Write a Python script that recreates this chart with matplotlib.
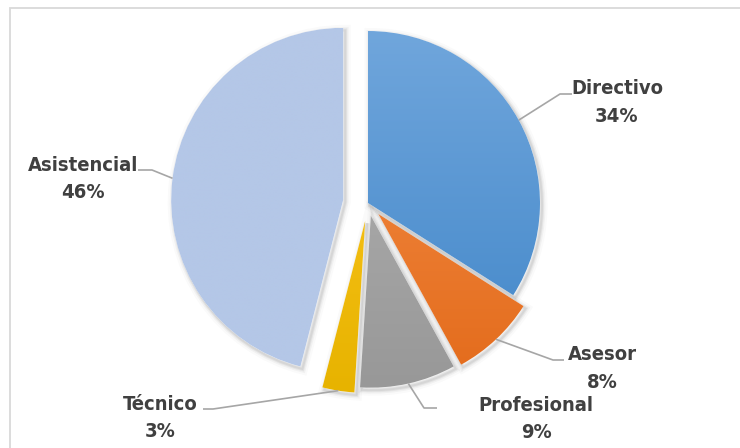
import numpy as np
import matplotlib
matplotlib.use("Agg")
import matplotlib.pyplot as plt
from matplotlib import font_manager
from matplotlib.colors import LinearSegmentedColormap
from matplotlib.patches import Rectangle, PathPatch
from matplotlib.path import Path

categories = ["Directivo", "Asesor", "Profesional", "Técnico", "Asistencial"]
percent = [34, 8, 9, 3, 46]

# gradient colours per slice (top, bottom)
grad_colors = [("#70a6dc", "#4287c9"), ("#f58f4a", "#e36b1b"), ("#b3b3b3", "#989898"),
               ("#ffc823", "#e7b300"), ("#b4c7e7", "#b4c7e7")]
explode = [0, 15, 13, 18, 25]

W, H = 740, 448
CX, CY, R = 368, H - 203, 172

# label baselines (image px): centre x, name, pct; leader elbow and end
label_pos = [(617, 94, 122), (602, 360, 388), (536, 411, 438), (160, 410, 437), (83, 171, 198)]
leader = [((560, 94), (572, 94)), ((553, 360), (564, 360)), ((424, 408), (437, 408)),
          ((213, 409), (203, 409)), ((152, 170), (138, 170))]

names = {f.name for f in font_manager.fontManager.ttflist}
if "Liberation Sans Narrow" in names:
    font = dict(family="Liberation Sans Narrow", size=17)
else:
    font = dict(family="DejaVu Sans", stretch="condensed", size=14.5)

fig = plt.figure(figsize=(W / 100, H / 100), dpi=100)
ax = fig.add_axes([0, 0, 1, 1])

wedges, _ = ax.pie(percent, explode=explode, radius=R, center=(CX, CY), startangle=90,
                   counterclock=False, wedgeprops=dict(linewidth=0))
ax.set_xlim(0, W)
ax.set_ylim(0, H)
ax.set_aspect("auto")
ax.axis("off")

# soft shadow + gradient fill
for w, (c1, c2) in zip(wedges, grad_colors):
    cx, cy = w.center
    path = w.get_path()
    shifted = Path(path.vertices + [2.0, -2.5], path.codes)
    for k, a in [(8, 0.02), (5, 0.035), (3, 0.05), (1.5, 0.06)]:
        ax.add_patch(PathPatch(shifted, fc="none", ec="black", lw=k, alpha=a, zorder=1))
    ax.add_patch(PathPatch(path, fc="white", ec="none", zorder=1.5))
    w.set_facecolor("none")
    w.set_zorder(3)
    cmap = LinearSegmentedColormap.from_list("g", [c2, c1])
    grad = np.linspace(0, 1, 256).reshape(-1, 1)
    im = ax.imshow(grad, cmap=cmap, extent=(cx - R, cx + R, cy - R, cy + R), origin="lower",
                   aspect="auto", zorder=2, interpolation="bilinear")
    im.set_clip_path(w)

ax.set_xlim(0, W)
ax.set_ylim(0, H)

for w, name, p, (lx, y1, y2), (elb, end) in zip(wedges, categories, percent, label_pos, leader):
    th = np.deg2rad((w.theta1 + w.theta2) / 2)
    sx = w.center[0] + w.r * np.cos(th)
    sy = w.center[1] + w.r * np.sin(th)
    ax.plot([sx, elb[0], end[0]], [sy, H - elb[1], H - end[1]], color="#a6a6a6", lw=1.2,
            zorder=4, solid_capstyle="butt")
    ax.text(lx, H - y1, name, ha="center", va="baseline", color="#404040", weight="bold", **font)
    ax.text(lx, H - y2, f"{p}%", ha="center", va="baseline", color="#404040", weight="bold", **font)

ax.add_patch(Rectangle((10, -10), W, H - 7.5 + 10, fc="none", ec="#d9d9d9", lw=1.3, zorder=0))

fig.savefig("out.png", dpi=100)
